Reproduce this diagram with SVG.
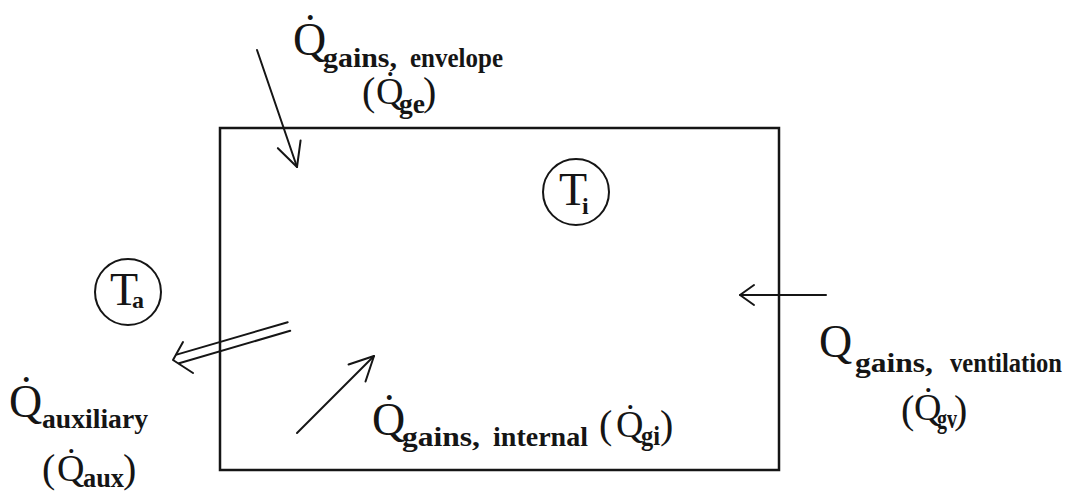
<svg xmlns="http://www.w3.org/2000/svg" width="1071" height="495" viewBox="0 0 1071 495">
<style>
.ln{stroke:#151515;stroke-width:2;fill:none;stroke-linecap:round;stroke-linejoin:round}
.box{stroke:#151515;stroke-width:2.5;fill:none}
.circ{stroke:#151515;stroke-width:2;fill:none}
.Q{font-family:"Liberation Serif","DejaVu Serif",serif;font-size:46px;fill:#151515}
.q{font-family:"Liberation Serif","DejaVu Serif",serif;font-size:38px;fill:#151515}
.p{font-family:"Liberation Serif","DejaVu Serif",serif;font-size:40px;fill:#151515}
.s{font-family:"Liberation Serif","DejaVu Serif",serif;font-size:28px;font-weight:bold;fill:#151515}
.T{font-family:"Liberation Serif","DejaVu Serif",serif;font-size:46px;fill:#151515}
.ts{font-family:"Liberation Serif","DejaVu Serif",serif;font-size:24px;font-weight:bold;fill:#151515}
</style>
<defs>
<marker id="head" markerUnits="userSpaceOnUse" markerWidth="40" markerHeight="40" refX="0" refY="0" viewBox="-30 -20 40 40" orient="auto" overflow="visible">
<path d="M-24,-12 L0,0 L-24,12" class="ln"/>
</marker>
<marker id="headS" markerUnits="userSpaceOnUse" markerWidth="30" markerHeight="30" refX="0" refY="0" viewBox="-20 -15 30 30" orient="auto" overflow="visible">
<path d="M-14,-10 L0,0 L-14,10" class="ln"/>
</marker>
</defs>
<rect width="1071" height="495" fill="#ffffff"/>

<g id="room">
<rect class="box" x="220" y="128" width="559" height="342"/>
</g>

<g id="node-Ti">
<circle class="circ" cx="576" cy="192" r="33"/>
<text class="T" x="559" y="205">T</text>
<text class="ts" x="582" y="214">i</text>
</g>

<g id="node-Ta">
<circle class="circ" cx="128" cy="292" r="33"/>
<text class="T" x="110" y="305">T</text>
<text class="ts" x="132" y="308">a</text>
</g>

<g id="connectors">
<line class="ln" x1="257" y1="50" x2="297" y2="167" marker-end="url(#head)"/>
<line class="ln" x1="297" y1="433" x2="374" y2="356" marker-end="url(#head)"/>
<line class="ln" x1="826" y1="295" x2="740" y2="295" marker-end="url(#headS)"/>
<g id="aux-arrow">
<line class="ln" x1="287.7" y1="322.2" x2="176.6" y2="354.6"/>
<line class="ln" x1="290.2" y1="330.8" x2="179.1" y2="363.2"/>
<path class="ln" d="M183,342 L173,360 L193,373"/>
</g>
</g>

<g id="label-envelope">
<text class="Q" x="293" y="55">Q̇</text>
<text class="s" x="323" y="67" textLength="74" lengthAdjust="spacingAndGlyphs">gains,</text>
<text class="s" x="410" y="67" textLength="93" lengthAdjust="spacingAndGlyphs">envelope</text>
<text class="p" x="362" y="105">(</text>
<text class="q" x="376" y="104">Q̇</text>
<text class="s" x="399" y="113" textLength="26" lengthAdjust="spacingAndGlyphs">ge</text>
<text class="p" x="423" y="105">)</text>
</g>

<g id="label-auxiliary">
<text class="Q" x="9" y="417">Q̇</text>
<text class="s" x="42" y="428" textLength="106" lengthAdjust="spacingAndGlyphs">auxiliary</text>
<text class="p" x="42" y="482">(</text>
<text class="q" x="57" y="481">Q̇</text>
<text class="s" x="83" y="487" textLength="41" lengthAdjust="spacingAndGlyphs">aux</text>
<text class="p" x="123" y="482">)</text>
</g>

<g id="label-internal">
<text class="Q" x="372" y="435">Q̇</text>
<text class="s" x="402" y="446" textLength="78" lengthAdjust="spacingAndGlyphs">gains,</text>
<text class="s" x="493" y="446" textLength="95" lengthAdjust="spacingAndGlyphs">internal</text>
<text class="p" x="599" y="438">(</text>
<text class="q" x="616" y="437">Q̇</text>
<text class="s" x="641" y="445" textLength="19" lengthAdjust="spacingAndGlyphs">gi</text>
<text class="p" x="660" y="438">)</text>
</g>

<g id="label-ventilation">
<text class="Q" x="819" y="357">Q</text>
<text class="s" x="855" y="372" textLength="78" lengthAdjust="spacingAndGlyphs">gains,</text>
<text class="s" x="950" y="372" textLength="112" lengthAdjust="spacingAndGlyphs">ventilation</text>
<text class="p" x="901" y="423">(</text>
<text class="q" x="914" y="420">Q̇</text>
<text class="s" x="937" y="428" textLength="20" lengthAdjust="spacingAndGlyphs">gv</text>
<text class="p" x="954" y="423">)</text>
</g>
</svg>
